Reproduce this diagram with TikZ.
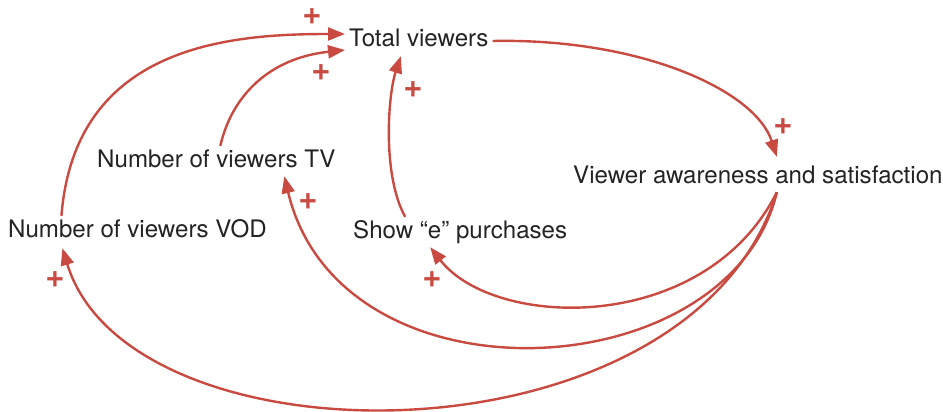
\documentclass[tikz,border=0pt]{standalone}
\usepackage{fontspec}
\setmainfont{TeX Gyre Heros}
\usepackage{xcolor}
\usetikzlibrary{arrows.meta}

\definecolor{loopred}{RGB}{200,74,64}
\definecolor{labelgray}{RGB}{35,35,35}

\begin{document}
\begin{tikzpicture}[
    x=1pt, y=-1pt,
    >={Triangle[length=17pt, width=13pt]},
    cldvar/.style={anchor=base west, inner sep=4pt, text height=17pt, text depth=5pt,
                   text=labelgray, font=\fontsize{24.1}{28}\selectfont},
    cldarrow/.style={->, draw=loopred, fill=none, line width=2.4pt},
    polsign/.style={text=loopred, inner sep=0pt, font=\fontsize{33}{36}\selectfont\bfseries}
]
\useasboundingbox (0,0) rectangle (943,412);

% --- Variables ---
\node[cldvar] (total) at (345,47)  {Total viewers};
\node[cldvar] (aware) at (569,183) {Viewer awareness and satisfaction};
\node[cldvar] (tv)    at (93,167)  {Number of viewers TV};
\node[cldvar] (vod)   at (4,237)   {Number of viewers VOD};
\node[cldvar] (show)  at (349,238) {Show “e” purchases};

% --- Links into total viewers ---
\draw[cldarrow] ([xshift=-76pt]vod.north) .. controls (75,45) and (230,34) .. ([yshift=7pt]total.west);
\draw[cldarrow] ([xshift=4pt]tv.north) .. controls (232,95) and (270,58) .. ([yshift=-9pt]total.west);
\draw[cldarrow] ([xshift=-55pt]show.north) .. controls (382,175) and (388,95) .. ([xshift=-18pt]total.south);

% --- Total viewers to awareness ---
\draw[cldarrow] (total.east) .. controls (640,38) and (755,90) .. ([xshift=19pt,yshift=5pt]aware.north);

% --- Feedback from awareness ---
\draw[cldarrow] ([xshift=19pt]aware.south) .. controls (705,335) and (495,330) .. ([xshift=-30pt]show.south);
\draw[cldarrow] ([xshift=19pt]aware.south) .. controls (730,390) and (340,410) .. ([xshift=68pt]tv.south);
\draw[cldarrow] ([xshift=19pt]aware.south) .. controls (690,470) and (130,470) .. ([xshift=-75pt,yshift=-2pt]vod.south);

% --- Polarities ---
\node[polsign] (p1) at (312,17)  {+};
\node[polsign] (p2) at (321,73)  {+};
\node[polsign] (p3) at (413,90)  {+};
\node[polsign] (p4) at (783,127) {+};
\node[polsign] (p5) at (432,280) {+};
\node[polsign] (p6) at (308,202) {+};
\node[polsign] (p7) at (55,280)  {+};

\end{tikzpicture}
\end{document}
